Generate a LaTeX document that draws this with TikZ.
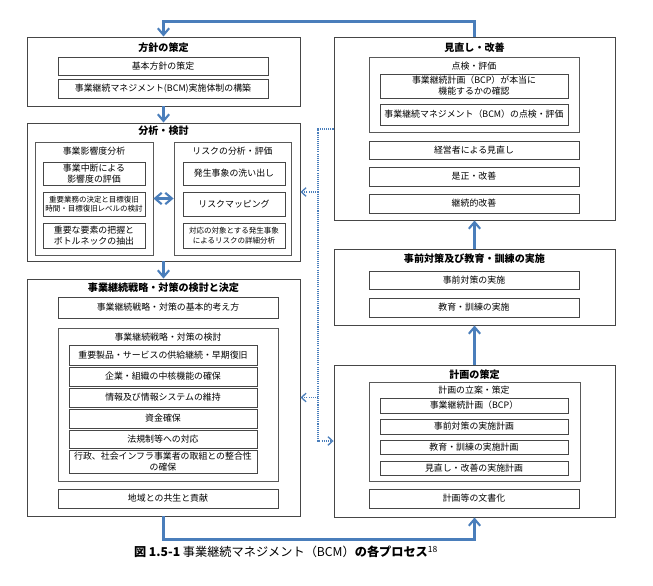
\documentclass[tikz,border=0pt]{standalone}
\usepackage{fontspec}
\setmainfont{Noto Sans CJK JP}
\usepackage{tikz}
\usetikzlibrary{arrows.meta,fit}
\definecolor{flowblue}{RGB}{74,126,187}
\definecolor{framegray}{RGB}{70,70,70}

\begin{document}
\begin{tikzpicture}[
        x=0.3mm, y=-0.3mm,
        outerbox/.style={rectangle, draw=framegray, line width=0.8pt, inner sep=0pt},
        groupbox/.style={rectangle, draw=framegray!90, line width=0.7pt, inner sep=0pt},
        itembox/.style={rectangle, draw=framegray, line width=0.7pt, inner sep=0pt, align=center, font=\fontsize{7.6}{9.4}\selectfont},
        wideitem/.style={itembox, minimum width=63mm},
        widestitem/.style={itembox, minimum width=66mm},
        listitem/.style={itembox, minimum width=56.4mm},
        narrowitem/.style={itembox, minimum width=30.6mm},
        smalltext/.style={font=\fontsize{6.4}{8}\selectfont},
        heading/.style={font=\bfseries\fontsize{8.6}{10}\selectfont},
        subheading/.style={font=\fontsize{7.6}{9}\selectfont},
        flow/.style={draw=flowblue, line width=1.8pt, -{Straight Barb[length=2mm,width=3.4mm]}},
        feedback/.style={draw=flowblue, line width=1.1pt, dash pattern=on 0.9pt off 0.9pt, -{Straight Barb[length=1.4mm,width=2.6mm]}},
        ]
        \useasboundingbox (0,0) rectangle (653,585);

        \node (hoshin) [outerbox, fit={(27,37) (300,106)}] {};
        \node (hoshinT) at (163.5,48) [heading] {方針の策定};
        \node (kihon) at (163,66) [wideitem, minimum height=5.4mm] {基本方針の策定};
        \node (taisei) at (163,88.5) [wideitem, minimum height=5.7mm] {事業継続マネジメント(BCM)実施体制の構築};

        \node (bunseki) [outerbox, fit={(27,123) (300,261)}] {};
        \node (bunsekiT) at (163.5,131) [heading] {分析・検討};
        \node (eikyo) [groupbox, fit={(35,142) (153,255)}] {};
        \node (eikyoT) at (94,151) [subheading] {事業影響度分析};
        \node (eikyo1) at (94,173.5) [narrowitem, minimum height=6.9mm] {事業中断による\\影響度の評価};
        \node (eikyo2) at (94,204) [narrowitem, smalltext, minimum height=7.2mm] {重要業務の決定と目標復旧\\時間・目標復旧レベルの検討};
        \node (eikyo3) at (94,235.5) [narrowitem, minimum height=7.5mm] {重要な要素の把握と\\ボトルネックの抽出};
        \node (risk) [groupbox, fit={(174,142) (291,255)}] {};
        \node (riskT) at (232.5,151) [subheading] {リスクの分析・評価};
        \node (risk1) at (234,173.5) [narrowitem, minimum height=6.9mm] {発生事象の洗い出し};
        \node (risk2) at (234,204) [narrowitem, minimum height=7.2mm] {リスクマッピング};
        \node (risk3) at (234,235.5) [narrowitem, smalltext, minimum height=7.5mm] {対応の対象とする発生事象\\によるリスクの詳細分析};

        \node (senryaku) [outerbox, fit={(27,279) (300,516)}] {};
        \node (senryakuT) at (163.5,288) [heading] {事業継続戦略・対策の検討と決定};
        \node (kangae) at (168,307.5) [widestitem, minimum height=6.3mm] {事業継続戦略・対策の基本的考え方};
        \node (kento) [groupbox, fit={(58,328) (278,481)}] {};
        \node (kentoT) at (168,337) [subheading] {事業継続戦略・対策の検討};
        \node (kento1) at (163,355) [listitem, minimum height=6mm] {重要製品・サービスの供給継続・早期復旧};
        \node (kento2) at (163,376.5) [listitem, minimum height=5.7mm] {企業・組織の中核機能の確保};
        \node (kento3) at (163,397.5) [listitem, minimum height=5.7mm] {情報及び情報システムの維持};
        \node (kento4) at (163,418.5) [listitem, minimum height=5.7mm] {資金確保};
        \node (kento5) at (163,439) [listitem, minimum height=5.4mm] {法規制等への対応};
        \node (kento6) at (163,461.5) [listitem, minimum height=6.9mm] {行政、社会インフラ事業者の取組との整合性\\の確保};
        \node (chiiki) at (168,498.5) [widestitem, minimum height=5.7mm] {地域との共生と貢献};

        \node (minaoshi) [outerbox, fit={(334,37) (615,220)}] {};
        \node (minaoshiT) at (474.5,48) [heading] {見直し・改善};
        \node (tenken) [groupbox, fit={(369,57) (579,132)}] {};
        \node (tenkenT) at (474,66) [subheading] {点検・評価};
        \node (tenken1) at (474,86) [listitem, minimum height=7.2mm] {事業継続計画（BCP）が本当に\\機能するかの確認};
        \node (tenken2) at (474,114.5) [listitem, minimum height=6.3mm] {事業継続マネジメント（BCM）の点検・評価};
        \node (keiei) at (474,150) [wideitem, minimum height=5.4mm] {経営者による見直し};
        \node (zesei) at (474,176.5) [wideitem, minimum height=5.7mm] {是正・改善};
        \node (keizoku) at (474,203.5) [wideitem, minimum height=5.7mm] {継続的改善};

        \node (jizen) [outerbox, fit={(334,249) (615,325)}] {};
        \node (jizenT) at (474.5,259) [heading] {事前対策及び教育・訓練の実施};
        \node (jizen1) at (474,280) [wideitem, minimum height=5.4mm] {事前対策の実施};
        \node (jizen2) at (474,307.5) [wideitem, minimum height=5.7mm] {教育・訓練の実施};

        \node (keikaku) [outerbox, fit={(334,365) (615,517)}] {};
        \node (keikakuT) at (474.5,375) [heading] {計画の策定};
        \node (ritsuan) [groupbox, fit={(369,382) (580,481)}] {};
        \node (ritsuanT) at (474,390) [subheading] {計画の立案・策定};
        \node (ritsuan1) at (474,405.5) [listitem, minimum height=4.5mm] {事業継続計画（BCP）};
        \node (ritsuan2) at (474,426.5) [listitem, minimum height=4.5mm] {事前対策の実施計画};
        \node (ritsuan3) at (474,447) [listitem, minimum height=4.2mm] {教育・訓練の実施計画};
        \node (ritsuan4) at (474,468) [listitem, minimum height=4.2mm] {見直し・改善の実施計画};
        \node (bunsho) at (474,498.5) [wideitem, minimum height=5.7mm] {計画等の文書化};

        \draw[flow] (minaoshi.north) -- ++(0,-15) -| (hoshin.north);
        \draw[flow] (hoshin) -- (bunseki);
        \draw[flow] (bunseki) -- (senryaku);
        \draw[flow] (senryaku.south) -- ++(0,23) -| (keikaku.south);
        \draw[flow] (keikaku) -- (jizen);
        \draw[flow] (jizen) -- (minaoshi);
        \draw[flow, {Straight Barb[length=2mm,width=3.4mm]}-{Straight Barb[length=2mm,width=3.4mm]}] (eikyo) -- (risk);

        \coordinate (fbtop) at (318,129);
        \draw[feedback] (minaoshi.west |- fbtop) -- (fbtop) |- (keikaku.west);
        \draw[feedback] (fbtop |- bunseki.east) -- (bunseki.east);
        \draw[feedback] (fbtop |- senryaku.east) -- (senryaku.east);

        \node (caption) at (286,552) [font=\fontsize{10.4}{12}\selectfont] {\textbf{図 1.5-1} 事業継続マネジメント（BCM）\textbf{の各プロセス}\textsuperscript{18}};
    \end{tikzpicture}
\end{document}
